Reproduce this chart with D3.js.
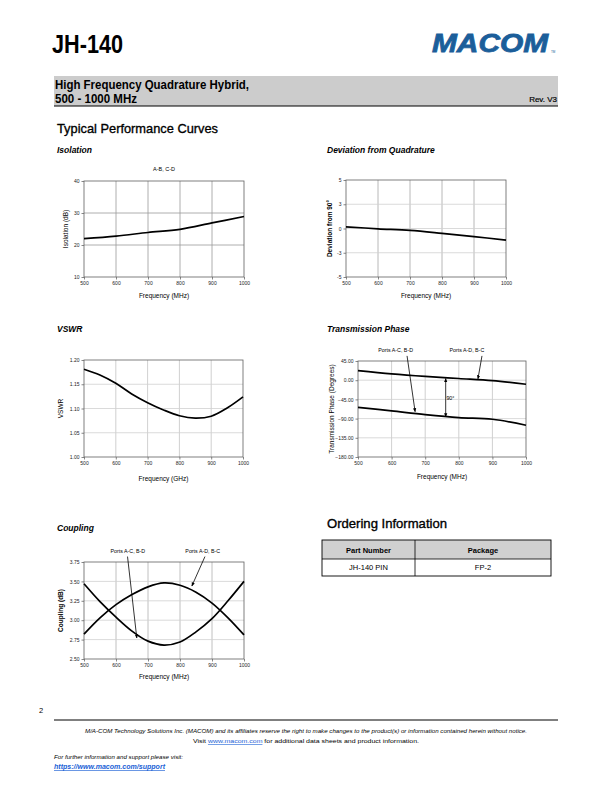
<!DOCTYPE html>
<html lang="en">
<head>
<meta charset="UTF-8">
<title>JH-140</title>
<style>
  body { margin: 0; background: #fff; }
  svg text { font-family: "Liberation Sans", Arial, sans-serif; }
</style>
</head>
<body>
<svg width="612" height="792" id="page"></svg>
<script src="https://d3js.org/d3.v7.min.js"></script>
<script>
// ---- data ----
const freqs = [500, 600, 700, 800, 900, 1000];
const freqsFine = [500, 550, 600, 650, 700, 750, 800, 850, 900, 950, 1000];

const isolation = [22.0, 22.8, 23.9, 24.9, 26.9, 28.9];
const deviation = [0.17, -0.03, -0.2, -0.5, -0.83, -1.2];
const vswr = [1.181, 1.169, 1.152, 1.130, 1.112, 1.097, 1.085, 1.080, 1.084, 1.101, 1.124];
const phaseAD = [22.5, 15, 9, 4, -1, -9.5];
const phaseAC = [-63.6, -72, -80.7, -87.7, -91.5, -105.5];
const couplingAD = [2.82, 3.03, 3.20, 3.33, 3.43, 3.48, 3.45, 3.36, 3.22, 3.03, 2.81];
const couplingAC = [3.47, 3.24, 3.04, 2.86, 2.73, 2.68, 2.72, 2.85, 3.02, 3.25, 3.50];

const xTicks = [500, 600, 700, 800, 900, 1000];
const isoTicks = [10, 20, 30, 40];
const devTicks = [-5, -2.5, 0, 2.5, 5];
const devTickLabels = ["-5", "-3", "0", "3", "5"];
const vswrTicks = [1.00, 1.05, 1.10, 1.15, 1.20];
const phaseTicks = [-180, -135, -90, -45, 0, 45];
const coupTicks = [2.50, 2.75, 3.00, 3.25, 3.50, 3.75];

const svg = d3.select("#page");

function txt(x, y, s, o) {
  o = o || {};
  const t = svg.append("text")
    .attr("x", x).attr("y", y)
    .attr("font-size", o.size || 8)
    .attr("font-weight", o.weight || "normal")
    .attr("font-style", o.style || "normal")
    .attr("fill", o.fill || "#000")
    .attr("text-anchor", o.anchor || "start")
    .text(s);
  if (o.len) t.attr("textLength", o.len).attr("lengthAdjust", "spacingAndGlyphs");
  if (o.deco) t.attr("text-decoration", o.deco);
  if (o.thick) t.attr("stroke", o.fill || "#000").attr("stroke-width", o.thick);
  return t;
}

// ---- page header ----
txt(52, 53, "JH-140", {size: 25, weight: "bold", len: 71});
txt(432, 52, "MACOM", {size: 25, weight: "900", style: "italic", fill: "#1b5e9a", len: 116, thick: 0.8});
txt(551, 53, "TM", {size: 3, fill: "#1b5e9a"});

svg.append("rect").attr("x", 54).attr("y", 76).attr("width", 504).attr("height", 30).attr("fill", "#cccccc");
svg.append("line").attr("x1", 54).attr("x2", 558).attr("y1", 106).attr("y2", 106).attr("stroke", "#000").attr("stroke-width", 1.2);
txt(55, 89, "High Frequency Quadrature Hybrid,", {size: 12, weight: "bold", len: 194});
txt(55, 103, "500 - 1000 MHz", {size: 12, weight: "bold", len: 82});
txt(557, 102, "Rev.  V3", {size: 8, anchor: "end", thick: 0.2});

txt(57, 133, "Typical Performance Curves", {size: 13.5, len: 161, thick: 0.35});

// ---- defs for arrowheads ----
const defs = svg.append("defs");
defs.append("marker").attr("id", "arr").attr("viewBox", "0 0 10 10")
  .attr("refX", 9).attr("refY", 5).attr("markerWidth", 5).attr("markerHeight", 5)
  .attr("orient", "auto-start-reverse")
  .append("path").attr("d", "M0,1 L10,5 L0,9 z").attr("fill", "#000");

// ---- generic chart ----
function chart(c) {
  const g = svg.append("g");
  const x = d3.scaleLinear().domain([500, 1000]).range([c.left, c.left + c.w]);
  const y = d3.scaleLinear().domain(c.yDomain).range([c.top + c.h, c.top]);

  txt(c.titleX, c.titleY, c.title, {size: 8.5, weight: "bold", style: "italic"});

  // grid
  g.selectAll(".vg").data(xTicks.slice(1, -1)).enter().append("line")
    .attr("x1", d => x(d)).attr("x2", d => x(d))
    .attr("y1", c.top).attr("y2", c.top + c.h)
    .attr("stroke", c.vGrid || "#a6a6a6").attr("stroke-width", 0.8);
  g.selectAll(".hg").data(c.yTicks.slice(1, -1)).enter().append("line")
    .attr("x1", c.left).attr("x2", c.left + c.w)
    .attr("y1", d => y(d)).attr("y2", d => y(d))
    .attr("stroke", c.hGrid || "#c8c8c8").attr("stroke-width", 0.8);

  // axes
  const ax = g.append("g").attr("transform", `translate(0,${c.top + c.h})`)
    .call(d3.axisBottom(x).tickValues(xTicks).tickSize(2.5).tickSizeOuter(0).tickPadding(2)
      .tickFormat(d3.format("d")));
  const ay = g.append("g").attr("transform", `translate(${c.left},0)`)
    .call(d3.axisLeft(y).tickValues(c.yTicks).tickSize(2.5).tickSizeOuter(0).tickPadding(2)
      .tickFormat(c.fmt));
  [ax, ay].forEach(a => {
    a.select(".domain").remove();
    a.selectAll("line").attr("stroke", "#555").attr("stroke-width", 0.7);
    a.selectAll("text").attr("font-size", 5).attr("fill", "#222")
      .attr("font-family", "\"Liberation Sans\", Arial, sans-serif");
  });

  g.append("rect").attr("x", c.left).attr("y", c.top).attr("width", c.w).attr("height", c.h)
    .attr("fill", "none").attr("stroke", "#606060").attr("stroke-width", 0.8);

  // series
  const line = d3.line().x(d => x(d[0])).y(d => y(d[1])).curve(d3.curveCatmullRom.alpha(0.5));
  c.series.forEach(s => {
    g.append("path").datum(s.x.map((f, i) => [f, s.y[i]]))
      .attr("d", line).attr("fill", "none").attr("stroke", "#000").attr("stroke-width", 1.7);
  });

  // labels
  txt(c.left + c.w / 2, c.xLabelY, c.xLabel, {size: 6.5, anchor: "middle"});
  svg.append("text")
    .attr("transform", `translate(${c.yLabelX},${c.top + c.h / 2}) rotate(-90)`)
    .attr("text-anchor", "middle").attr("font-size", 6.5)
    .attr("font-weight", c.yLabelBold ? "bold" : "normal")
    .text(c.yLabel);
  if (c.header) txt(c.left + c.w / 2, c.top - 10, c.header, {size: 5.5, anchor: "middle"});

  (c.notes || []).forEach(n => {
    txt(x(n.tx), y(n.ty), n.text, {size: 5.3, anchor: "middle"});
  });
  (c.arrows || []).forEach(a => {
    const l = g.append("line")
      .attr("x1", x(a.from[0])).attr("y1", y(a.from[1]))
      .attr("x2", x(a.to[0])).attr("y2", y(a.to[1]))
      .attr("stroke", "#000").attr("stroke-width", 0.8)
      .attr("marker-end", "url(#arr)");
    if (a.both) l.attr("marker-start", "url(#arr)");
  });
  return {x, y};
}

const f2 = d3.format(".2f");

chart({
  title: "Isolation", titleX: 57, titleY: 153,
  left: 84, top: 181, w: 160, h: 96,
  yDomain: [10, 40], yTicks: isoTicks, fmt: d3.format("d"),
  vGrid: "#9a9a9a", hGrid: "#9a9a9a",
  series: [{x: freqs, y: isolation}],
  xLabel: "Frequency (MHz)", xLabelY: 298,
  yLabel: "Isolation (dB)", yLabelX: 68,
  header: "A-B, C-D"
});

chart({
  title: "Deviation from Quadrature", titleX: 327, titleY: 153,
  left: 346, top: 180, w: 160, h: 97,
  yDomain: [-5, 5], yTicks: devTicks, fmt: (d, i) => devTickLabels[i],
  vGrid: "#a6a6a6", hGrid: "#d0d0d0",
  series: [{x: freqs, y: deviation}],
  xLabelY: 298, xLabel: "Frequency (MHz)",
  yLabel: "Deviation from 90°", yLabelX: 332, yLabelBold: true
});

chart({
  title: "VSWR", titleX: 57, titleY: 332,
  left: 84, top: 360, w: 159, h: 97,
  yDomain: [1.0, 1.2], yTicks: vswrTicks, fmt: f2,
  vGrid: "#c4c4c4", hGrid: "#d0d0d0",
  series: [{x: freqsFine, y: vswr}],
  xLabelY: 481, xLabel: "Frequency (GHz)",
  yLabel: "VSWR", yLabelX: 63
});

chart({
  title: "Transmission Phase", titleX: 327, titleY: 332,
  left: 358, top: 361, w: 168, h: 96,
  yDomain: [-180, 45], yTicks: phaseTicks, fmt: f2,
  vGrid: "#c4c4c4", hGrid: "#d0d0d0",
  series: [{x: freqs, y: phaseAD}, {x: freqs, y: phaseAC}],
  xLabelY: 479, xLabel: "Frequency (MHz)",
  yLabel: "Transmission Phase (Degrees)", yLabelX: 334, yLabelBold: false,
  notes: [
    {text: "Ports A-C, B-D", tx: 612, ty: 66},
    {text: "Ports A-D, B-C", tx: 824, ty: 66},
    {text: "90°", tx: 775, ty: -46}
  ],
  arrows: [
    {from: [646, 57], to: [670, -74]},
    {from: [869, 57], to: [857, 3]},
    {from: [761, 4], to: [761, -86], both: true}
  ]
});

chart({
  title: "Coupling", titleX: 57, titleY: 531,
  left: 84, top: 562, w: 160, h: 97,
  yDomain: [2.5, 3.75], yTicks: coupTicks, fmt: f2,
  vGrid: "#b0b0b0", hGrid: "#d0d0d0",
  series: [{x: freqsFine, y: couplingAD}, {x: freqsFine, y: couplingAC}],
  xLabelY: 679, xLabel: "Frequency (MHz)",
  yLabel: "Coupling (dB)", yLabelX: 63, yLabelBold: true,
  notes: [
    {text: "Ports A-C, B-D", tx: 637, ty: 3.865},
    {text: "Ports A-D, B-C", tx: 871, ty: 3.865}
  ],
  arrows: [
    {from: [636, 3.82], to: [665, 2.77]},
    {from: [878, 3.82], to: [837, 3.44]}
  ]
});

// ---- ordering table ----
const tableCols = ["Part Number", "Package"];
const tableRows = [["JH-140 PIN", "FP-2"]];
txt(327, 528, "Ordering Information", {size: 13, len: 120, thick: 0.35});
const tx = d3.scaleOrdinal().domain([0, 1, 2]).range([322, 415, 551]);
svg.append("rect").attr("x", 322).attr("y", 540).attr("width", 229).attr("height", 19).attr("fill", "#d0d0d0");
svg.append("rect").attr("x", 322).attr("y", 540).attr("width", 229).attr("height", 36)
  .attr("fill", "none").attr("stroke", "#000").attr("stroke-width", 0.9);
svg.append("line").attr("x1", 322).attr("x2", 551).attr("y1", 559).attr("y2", 559).attr("stroke", "#000").attr("stroke-width", 0.8);
svg.append("line").attr("x1", 415).attr("x2", 415).attr("y1", 540).attr("y2", 576).attr("stroke", "#000").attr("stroke-width", 0.8);
tableCols.forEach((c, i) => txt((tx(i) + tx(i + 1)) / 2, 553, c, {size: 7.5, weight: "bold", anchor: "middle"}));
tableRows.forEach((r, j) => r.forEach((c, i) => txt((tx(i) + tx(i + 1)) / 2, 570 + j * 17, c, {size: 7.5, anchor: "middle"})));

// ---- footer ----
txt(39, 713, "2", {size: 7.5});
svg.append("line").attr("x1", 54).attr("x2", 558).attr("y1", 720).attr("y2", 720).attr("stroke", "#000").attr("stroke-width", 1);
txt(306, 733, "M/A-COM Technology Solutions Inc. (MACOM) and its affiliates reserve the right to make changes to the product(s) or information contained herein without notice.",
  {size: 6, style: "italic", anchor: "middle", len: 442});
const visit = svg.append("text").attr("x", 306).attr("y", 743).attr("font-size", 6).attr("text-anchor", "middle")
  .attr("textLength", 226).attr("lengthAdjust", "spacingAndGlyphs");
visit.append("tspan").text("Visit ");
visit.append("tspan").attr("fill", "#1a5fd6").attr("text-decoration", "underline").text("www.macom.com");
visit.append("tspan").text(" for additional data sheets and product information.");
txt(54, 759, "For further information and support please visit:", {size: 6, style: "italic", len: 129});
txt(54, 769, "https://www.macom.com/support", {size: 6.5, style: "italic", weight: "bold", fill: "#1a5fd6", deco: "underline", len: 111});
</script>
</body>
</html>
